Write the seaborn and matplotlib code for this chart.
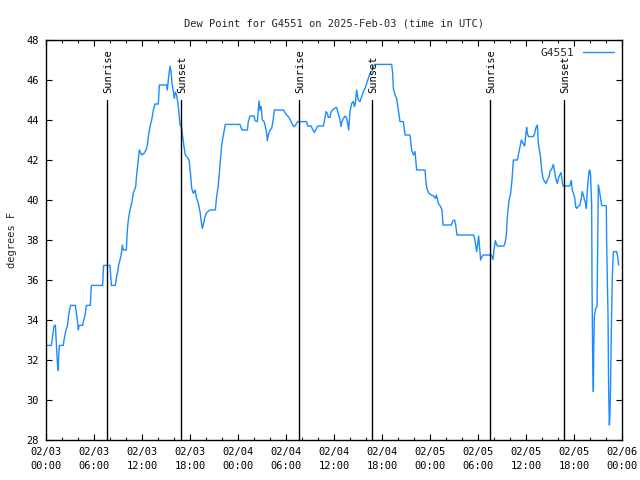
import matplotlib
matplotlib.use("Agg")
import matplotlib.pyplot as plt
import matplotlib.dates as mdates
import numpy as np
import pandas as pd
import seaborn as sns

# ---- data ----
start = "2025-02-03 00:00"
station = "G4551"
title_text = "Dew Point for G4551 on 2025-Feb-03 (time in UTC)"
ylabel_text = "degrees F"

hours = [
    0.00, 0.67, 1.00, 1.17, 1.33, 1.42, 1.54, 1.58, 1.67, 2.17, 2.25, 2.38, 2.50, 2.67, 2.75, 2.83,
    2.96, 3.08, 3.67, 3.75, 3.88, 4.00, 4.04, 4.13, 4.58, 4.71, 4.88, 5.04, 5.54, 5.67, 7.08, 7.20,
    8.00, 8.17, 8.67, 8.83, 9.00, 9.08, 9.25, 9.42, 9.54, 9.67, 10.04,
    10.17, 10.29, 10.50, 10.71, 10.92, 11.21, 11.33, 11.54, 11.67, 11.96, 12.25, 12.50, 12.67, 12.79,
    13.00, 13.21, 13.42, 13.63, 14.04, 14.17, 15.08, 15.17, 15.33, 15.50, 15.63, 15.75, 15.92, 16.04,
    16.17, 16.33, 16.46, 16.58, 16.75, 16.92, 17.08, 17.25, 17.42, 17.58, 17.88, 18.08, 18.21, 18.42,
    18.63, 18.83, 19.04, 19.25, 19.38, 19.54, 19.75, 19.88, 20.08, 20.50, 21.17, 21.33, 21.54, 21.75,
    21.96, 22.17, 22.42, 24.25,
    24.46, 24.54, 25.17, 25.29, 25.50, 26.00, 26.13, 26.42, 26.63, 26.75, 26.88, 27.04, 27.25, 27.38,
    27.58, 27.67, 27.79, 28.00, 28.21, 28.42, 28.54, 29.67, 29.88, 30.08, 30.38, 30.58, 30.83, 31.04,
    31.25, 31.46, 32.58, 32.71, 33.13, 33.33, 33.54, 33.75, 33.96, 34.67, 34.88, 35.00, 35.17, 35.29,
    35.50, 35.63, 35.83, 36.04, 36.33, 36.46, 36.63, 36.75, 36.88, 37.00, 37.17, 37.38, 37.58, 37.71,
    37.83, 38.00, 38.21, 38.42, 38.54, 38.67, 38.83, 39.04, 39.25, 39.46, 39.67, 39.88, 40.08, 40.29,
    40.50, 40.71, 40.92, 41.13, 43.21,
    43.33, 43.42, 43.63, 43.83, 44.04, 44.25, 44.67, 44.88, 45.50, 45.71, 45.92, 46.13, 46.33, 47.38,
    47.50, 47.67, 47.88, 48.17, 48.46, 48.67, 48.79, 48.92, 49.04, 49.33, 49.50, 49.63, 50.67, 50.88,
    51.08, 51.21, 51.38, 53.46, 53.58, 53.71, 53.83, 53.96, 54.08, 54.21, 54.33, 54.50, 54.63, 55.67,
    55.88, 56.00, 56.17, 56.29, 56.42, 57.25, 57.42, 57.54, 57.67, 57.88, 58.08, 58.25, 58.42, 58.92,
    59.08, 59.25, 59.42, 59.63, 59.83, 59.96, 60.08, 60.17, 60.33, 60.92, 61.08, 61.21, 61.42, 61.54,
    61.71, 61.83, 61.96, 62.13, 62.33, 62.50, 62.67, 62.88, 63.00, 63.25, 63.42, 63.58, 63.71, 63.92,
    64.04, 64.21, 64.38, 64.50, 64.63, 65.46, 65.58, 65.67, 65.79, 65.92, 66.08, 66.21, 66.33, 66.50,
    66.75, 66.92, 67.04, 67.17, 67.33, 67.46, 67.54, 67.67, 67.79, 67.92, 68.00, 68.08, 68.21, 68.25,
    68.33, 68.42, 68.46, 68.54, 68.71, 68.88, 68.96, 69.04, 69.17, 69.29, 69.46, 70.04, 70.08, 70.25,
    70.33, 70.42, 70.50, 70.58, 70.67, 70.79, 70.92, 71.33, 71.46, 71.58,
]

dew_point = [
    32.73, 32.73, 33.70, 33.75, 32.60, 31.87, 31.47, 32.20, 32.73, 32.73, 33.00, 33.25, 33.50, 33.70, 33.92, 34.23,
    34.53, 34.73, 34.73, 34.50, 34.08, 33.70, 33.50, 33.73, 33.73, 34.00, 34.23, 34.73, 34.73, 35.73, 35.73, 36.73,
    36.73, 35.73, 35.73, 36.17, 36.50, 36.75, 37.00, 37.33, 37.75, 37.50, 37.50,
    38.50, 39.00, 39.50, 39.83, 40.35, 40.67, 41.25, 42.00, 42.50, 42.25, 42.33, 42.50, 42.75, 43.17,
    43.67, 44.00, 44.50, 44.80, 44.80, 45.75, 45.75, 45.50, 46.17, 46.70, 46.42, 45.83, 45.42, 45.08,
    45.40, 45.25, 44.92, 44.50, 43.75, 43.67, 43.17, 42.67, 42.25, 42.17, 42.00, 41.25, 40.58, 40.33,
    40.50, 40.08, 39.83, 39.42, 39.00, 38.58, 38.92, 39.17, 39.37, 39.50, 39.50, 40.17, 40.75, 41.75,
    42.75, 43.25, 43.78, 43.78,
    43.53, 43.50, 43.50, 43.92, 44.20, 44.20, 43.97, 43.92, 44.95, 44.50, 44.67, 44.00, 43.92, 43.75,
    43.33, 42.97, 43.25, 43.50, 43.58, 44.08, 44.50, 44.50, 44.37, 44.25, 44.13, 43.97, 43.75, 43.67,
    43.78, 43.92, 43.92, 43.70, 43.70, 43.53, 43.38, 43.53, 43.70, 43.70, 44.13, 44.42, 44.33, 44.13,
    44.13, 44.42, 44.50, 44.58, 44.63, 44.42, 44.17, 44.00, 43.67, 43.92, 44.08, 44.20, 44.08, 43.83,
    43.50, 44.42, 44.83, 44.92, 44.67, 44.83, 45.50, 45.00, 44.92, 45.17, 45.42, 45.58, 45.83, 46.08,
    46.33, 46.42, 46.67, 46.78, 46.78,
    46.33, 45.58, 45.25, 45.08, 44.50, 43.92, 43.92, 43.25, 43.25, 42.50, 42.25, 42.42, 41.50, 41.50,
    40.83, 40.50, 40.33, 40.25, 40.20, 40.08, 40.25, 40.08, 39.83, 39.67, 39.50, 38.75, 38.75, 38.97,
    39.00, 38.75, 38.25, 38.25, 38.08, 37.75, 37.42, 37.80, 38.20, 37.60, 37.00, 37.17, 37.25, 37.25,
    37.03, 37.50, 37.97, 37.83, 37.70, 37.70, 37.92, 38.25, 39.17, 40.00, 40.33, 41.00, 42.00, 42.00,
    42.33, 42.67, 43.00, 42.83, 42.70, 43.17, 43.63, 43.33, 43.17, 43.17, 43.33, 43.58, 43.75, 42.83,
    42.42, 42.08, 41.50, 41.08, 40.92, 40.83, 41.00, 41.17, 41.42, 41.58, 41.78, 41.42, 41.08, 40.83,
    41.08, 41.25, 41.37, 41.00, 40.70, 40.70, 40.87, 40.97, 40.50, 40.33, 40.13, 39.67, 39.58, 39.67,
    39.75, 40.08, 40.42, 40.25, 39.97, 39.83, 39.58, 40.50, 41.08, 41.50, 41.47, 41.17, 39.67, 36.00,
    32.33, 30.42, 32.33, 34.17, 34.58, 34.67, 37.75, 40.75, 40.50, 40.17, 39.72, 39.72, 37.92, 34.25,
    30.58, 28.75, 29.33, 31.00, 33.67, 36.17, 37.42, 37.42, 37.17, 36.75,
]

sun_event_hours = [7.66, 16.92, 31.66, 40.79, 55.54, 64.79]
sun_event_labels = ["Sunrise", "Sunset", "Sunrise", "Sunset", "Sunrise", "Sunset"]

y_ticks = [28, 30, 32, 34, 36, 38, 40, 42, 44, 46, 48]
x_tick_hours = list(range(0, 73, 6))

# ---- build ----
t0 = pd.Timestamp(start)
times = t0 + pd.to_timedelta(hours, unit="h")
df = pd.DataFrame({"time": times, "dew": dew_point})

sns.set_theme(style="ticks")
plt.rcParams["font.family"] = ["DejaVu Sans Mono", "DejaVu Sans"]
FS = 7.5

fig = plt.figure(figsize=(6.4, 4.8), dpi=100)
ax = fig.add_axes([46 / 640, 40 / 480, 576 / 640, 400 / 480])

line_color = "#1a8cff"
sns.lineplot(data=df, x="time", y="dew", ax=ax, color=line_color,
             linewidth=1.0, label=station, sort=False, estimator=None)

for h, lab in zip(sun_event_hours, sun_event_labels):
    tt = t0 + pd.Timedelta(hours=h)
    ax.plot([tt, tt], [28, 45], color="black", linewidth=1.0)
    ax.text(tt + pd.Timedelta(minutes=8), 45.35, lab, rotation=90, ha="center",
            va="bottom", fontsize=FS, color="black")

ax.set_xlim(t0, t0 + pd.Timedelta(hours=72))
ax.set_ylim(28, 48)
ax.set_yticks(y_ticks)
ax.set_yticklabels([str(v) for v in y_ticks])

xt = [t0 + pd.Timedelta(hours=h) for h in x_tick_hours]
xl = [d.strftime("%m/%d") + "\n" + d.strftime("%H:%M") for d in xt]
ax.set_xticks(xt)
labels = ax.set_xticklabels(xl)
for l in labels:
    l.set_linespacing(1.55)
ax.xaxis.set_minor_locator(mdates.HourLocator(byhour=range(0, 24, 2)))

ax.tick_params(axis="both", which="major", direction="in", length=4.5, width=0.8,
               top=True, right=True, labelsize=FS, colors="black", pad=5)
ax.tick_params(axis="x", which="minor", direction="in", length=2.2, width=0.8,
               top=True, bottom=True)
ax.tick_params(axis="y", which="minor", left=False, right=False)

for s in ax.spines.values():
    s.set_visible(True)
    s.set_color("black")
    s.set_linewidth(1.0)

ax.set_xlabel("")
ax.set_ylabel(ylabel_text, fontsize=FS, labelpad=7)
ax.set_title(title_text, fontsize=FS, pad=10)

leg = ax.legend(loc="upper right", frameon=False, markerfirst=False, fontsize=FS + 0.5,
                handlelength=2.8, borderaxespad=0.3, handletextpad=0.8)

fig.savefig("out.png", dpi=100)
